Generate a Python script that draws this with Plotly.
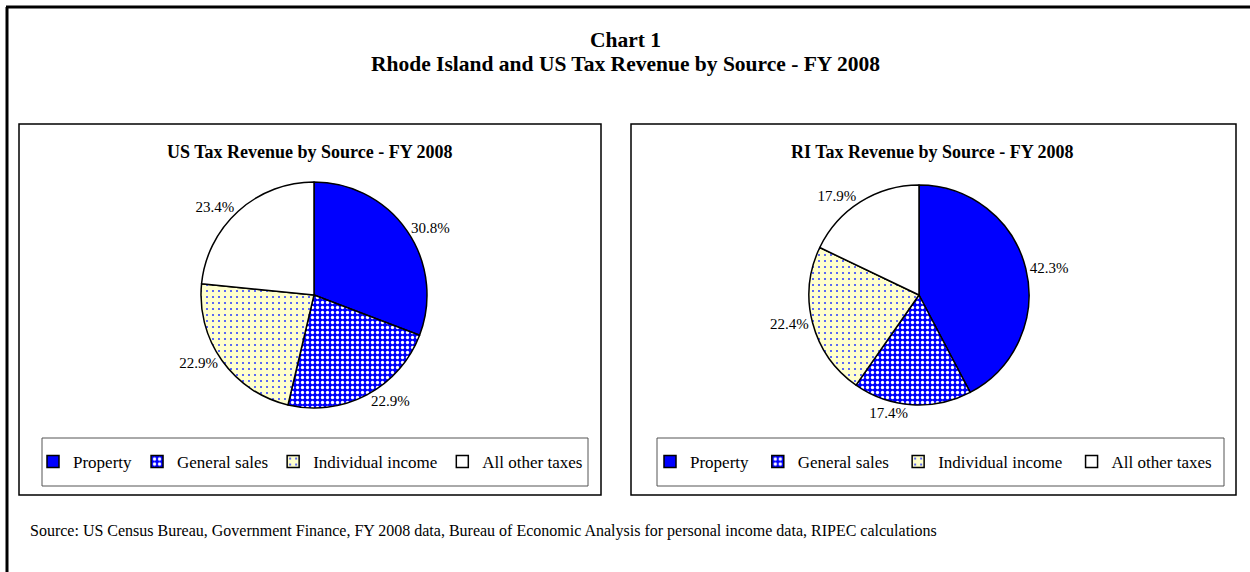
import plotly.graph_objects as go

W, H = 1250, 572

categories = ["Property", "General sales", "Individual income", "All other taxes"]
us_values = [30.8, 22.9, 22.9, 23.4]
ri_values = [42.3, 17.4, 22.4, 17.9]

main_title = "Chart 1"
main_subtitle = "Rhode Island and US Tax Revenue by Source - FY 2008"
us_title = "US Tax Revenue by Source - FY 2008"
ri_title = "RI Tax Revenue by Source - FY 2008"
source_text = ("Source: US Census Bureau, Government Finance, FY 2008 data, Bureau of Economic "
               "Analysis for personal income data, RIPEC calculations")

FONT = "Times New Roman, Liberation Serif, serif"

bg_colors = ["#0000FF", "#0000FF", "#FFFFCC", "#FFFFFF"]
fg_colors = ["#0000FF", "#FFFFFF", "#3344FF", "#FFFFFF"]
shapes_p = ["", ".", ".", ""]
sizes_p = [6, 5, 6, 6]
solid_p = [0.3, 0.35, 0.1, 0.3]


def px(x):
    return x / W


def py(y):
    return 1 - y / H


def dom(cx, cy, r):
    return dict(x=[px(cx - r), px(cx + r)], y=[py(cy + r), py(cy - r)])


def pie(values, labels, domain, legend):
    return go.Pie(
        labels=labels,
        values=values,
        sort=False,
        direction="clockwise",
        rotation=0,
        domain=domain,
        legend=legend,
        textposition="outside",
        texttemplate="%{percent:.1%}",
        textfont=dict(family=FONT, size=15, color="black"),
        marker=dict(
            colors=bg_colors,
            line=dict(color="black", width=1.5),
            pattern=dict(shape=shapes_p, fgcolor=fg_colors, bgcolor=bg_colors,
                         size=sizes_p, solidity=solid_p, fillmode="replace"),
        ),
        hoverinfo="label+percent",
    )


fig = go.Figure()
fig.add_trace(pie(us_values, categories, dom(314, 295, 113), "legend"))
# trailing space keeps the RI slices distinct from the US ones so each pie gets its own legend
fig.add_trace(pie(ri_values, [c + " " for c in categories], dom(919, 295, 110), "legend2"))

shapes = [
    # outer frame (top and left)
    dict(type="line", x0=px(6), x1=px(1250), y0=py(7), y1=py(7), line=dict(color="black", width=3)),
    dict(type="line", x0=px(7), x1=px(7), y0=py(7), y1=py(572), line=dict(color="black", width=3)),
    # panels
    dict(type="rect", x0=px(19), x1=px(601), y0=py(124), y1=py(495), line=dict(color="black", width=1.5)),
    dict(type="rect", x0=px(631), x1=px(1236), y0=py(124), y1=py(495), line=dict(color="black", width=1.5)),
    # legend boxes
    dict(type="rect", x0=px(42), x1=px(588), y0=py(438), y1=py(486), line=dict(color="#555555", width=1)),
    dict(type="rect", x0=px(657), x1=px(1224), y0=py(438), y1=py(486), line=dict(color="#555555", width=1)),
]
for s in shapes:
    s.update(xref="paper", yref="paper", layer="below")

annotations = [
    dict(text="<b>" + main_title + "</b>", x=px(625), y=py(40), font=dict(size=21.5)),
    dict(text="<b>" + main_subtitle + "</b>", x=px(625), y=py(64), font=dict(size=21.5)),
    dict(text="<b>" + us_title + "</b>", x=px(310), y=py(152), font=dict(size=18)),
    dict(text="<b>" + ri_title + "</b>", x=px(933), y=py(152), font=dict(size=18)),
    dict(text=source_text, x=px(28), y=py(531), xanchor="left", font=dict(size=16)),
]
for a in annotations:
    a.setdefault("xanchor", "center")
    a.update(xref="paper", yref="paper", yanchor="middle", showarrow=False)
    a["font"].update(family=FONT, color="black")

legend_common = dict(
    orientation="h",
    yanchor="middle",
    xanchor="left",
    bgcolor="rgba(0,0,0,0)",
    borderwidth=0,
    font=dict(family=FONT, size=17, color="black"),
    traceorder="normal",
    itemclick=False,
    itemdoubleclick=False,
)

fig.update_layout(
    width=W,
    height=H,
    margin=dict(l=0, r=0, t=0, b=0),
    paper_bgcolor="white",
    plot_bgcolor="white",
    shapes=shapes,
    annotations=annotations,
    legend=dict(x=px(33), y=py(462), **legend_common),
    legend2=dict(x=px(650), y=py(462), **legend_common),
    font=dict(family=FONT, color="black"),
)

fig.write_html("out.html", config={"displayModeBar": False},
               post_script="document.body.style.margin='0px';")
